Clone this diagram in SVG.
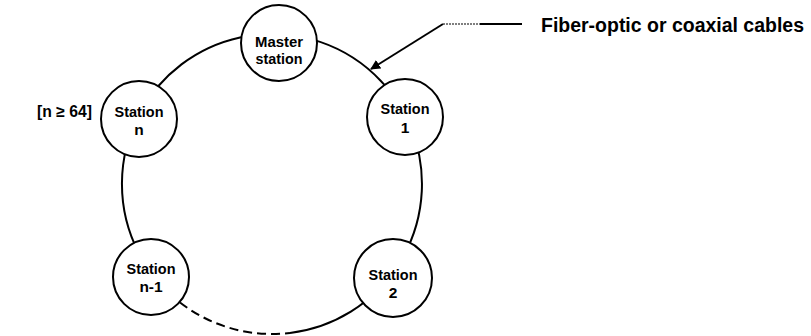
<svg xmlns="http://www.w3.org/2000/svg" width="811" height="336" viewBox="0 0 811 336">
<style>
.node{fill:#fff;stroke:#000;stroke-width:2}
.ring{fill:none;stroke:#000;stroke-width:2}
.lbl{font-family:"Liberation Sans",Arial,sans-serif;font-weight:bold;font-size:15.5px;fill:#000;text-anchor:middle}
.big{font-family:"Liberation Sans",Arial,sans-serif;font-weight:bold;fill:#000}
</style>
<defs>
<marker id="ah" viewBox="0 0 10 10" refX="9" refY="5" markerWidth="5" markerHeight="5" orient="auto" markerUnits="strokeWidth">
<path d="M0,0 L10,5 L0,10 z" fill="#000"/>
</marker>
</defs>
<rect width="811" height="336" fill="#fff"/>
<g id="connectors">
<path class="ring" d="M290,332.9 A150 150 0 1 0 180,302.5"/>
<path class="ring" d="M180,302.5 A150 150 0 0 0 290,332.9" stroke-dasharray="9,5"/>
<line x1="443" y1="24" x2="480" y2="24" stroke="#000" stroke-width="1.2" stroke-dasharray="2,1"/>
<line x1="480" y1="24" x2="522" y2="24" stroke="#000" stroke-width="2"/>
<line x1="443" y1="24" x2="371" y2="69" stroke="#000" stroke-width="2" marker-end="url(#ah)"/>
</g>
<g id="master">
<circle class="node" cx="279" cy="43" r="38"/>
<text class="lbl" x="279" y="47" textLength="48" lengthAdjust="spacingAndGlyphs">Master</text>
<text class="lbl" x="279" y="64" textLength="47" lengthAdjust="spacingAndGlyphs">station</text>
</g>
<g id="station1">
<circle class="node" cx="405" cy="117" r="38"/>
<text class="lbl" x="405" y="114" textLength="49" lengthAdjust="spacingAndGlyphs">Station</text>
<text class="lbl" x="405" y="133">1</text>
</g>
<g id="station2">
<circle class="node" cx="393" cy="278" r="39"/>
<text class="lbl" x="393" y="280" textLength="49" lengthAdjust="spacingAndGlyphs">Station</text>
<text class="lbl" x="393" y="298">2</text>
</g>
<g id="stationn1">
<circle class="node" cx="151" cy="277" r="38"/>
<text class="lbl" x="151" y="274" textLength="49" lengthAdjust="spacingAndGlyphs">Station</text>
<text class="lbl" x="151" y="292">n-1</text>
</g>
<g id="stationn">
<circle class="node" cx="139" cy="119" r="38"/>
<text class="lbl" x="139" y="117" textLength="49" lengthAdjust="spacingAndGlyphs">Station</text>
<text class="lbl" x="139" y="135">n</text>
</g>
<g id="labels">
<text class="big" x="541" y="32" font-size="20" textLength="263" lengthAdjust="spacingAndGlyphs">Fiber-optic or coaxial cables</text>
<text class="big" x="37" y="117" font-size="16" textLength="55" lengthAdjust="spacingAndGlyphs">[n ≥ 64]</text>
</g>
</svg>
